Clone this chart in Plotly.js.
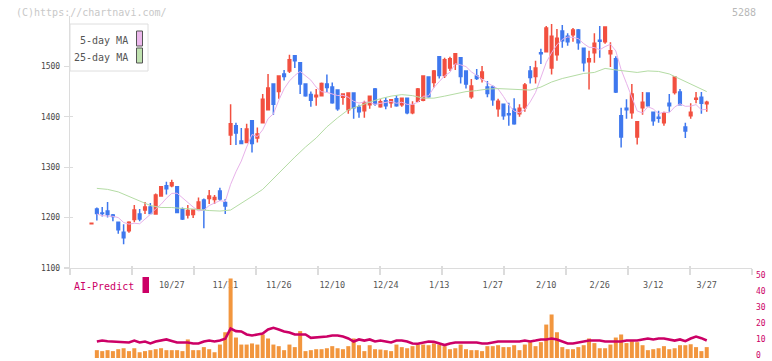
<!DOCTYPE html>
<html><head><meta charset="utf-8">
<script src="https://cdn.plot.ly/plotly-3.0.1.min.js"></script>
<style>html,body{margin:0;padding:0;background:#fff;}#chart{width:772px;height:361px;}</style>
</head><body><div id="chart"></div>
<script>
const dates = ['10/3','10/6','10/7','10/8','10/9','10/10','10/14','10/15','10/16','10/17','10/20','10/21','10/22','10/23','10/24','10/27','10/28','10/29','10/30','10/31','11/4','11/5','11/6','11/7','11/10','11/11','11/12','11/13','11/14','11/17','11/18','11/19','11/20','11/21','11/25','11/26','11/27','11/28','12/1','12/2','12/3','12/4','12/5','12/8','12/9','12/10','12/11','12/12','12/15','12/16','12/17','12/18','12/19','12/22','12/23','12/24','12/25','12/26','12/29','12/30','1/5','1/6','1/7','1/8','1/9','1/13','1/14','1/15','1/16','1/19','1/20','1/21','1/22','1/23','1/26','1/27','1/28','1/29','1/30','2/2','2/3','2/4','2/5','2/6','2/9','2/10','2/12','2/13','2/16','2/17','2/18','2/19','2/20','2/24','2/25','2/26','2/27','3/2','3/3','3/4','3/5','3/6','3/9','3/10','3/11','3/12','3/13','3/16','3/17','3/18','3/19','3/23','3/24','3/25','3/26','3/27'];

const open = [1188,1217,1209,1213,1205,1191,1171,1174,1196,1207,
1215,1221,1207,1243,1263,1263,1261,1217,1205,1206,
1216,1235,1238,1236,1253,1230,1364,1382,1352,1349,
1392,1358,1388,1414,1465,1450,1485,1491,1521,1507,
1465,1444,1440,1442,1465,1459,1453,1439,1414,1447,
1419,1412,1424,1455,1420,1432,1428,1436,1424,1437,
1408,1431,1433,1479,1468,1519,1482,1497,1505,1517,
1491,1440,1481,1476,1459,1459,1416,1425,1406,1415,
1406,1418,1491,1480,1527,1529,1497,1523,1570,1560,
1563,1572,1536,1509,1527,1552,1549,1525,1515,1402,
1417,1408,1360,1418,1447,1409,1399,1388,1427,1448,
1449,1380,1402,1435,1439,1426];
const high = [1189,1220,1221,1231,1207,1191,1187,1193,1225,1217,
1231,1229,1248,1262,1271,1275,1261,1220,1225,1216,
1240,1238,1255,1245,1259,1237,1425,1388,1378,1386,
1392,1379,1445,1485,1465,1481,1493,1523,1521,1507,
1465,1450,1455,1468,1484,1468,1453,1446,1448,1448,
1424,1432,1441,1457,1435,1439,1435,1443,1438,1438,
1431,1457,1482,1480,1493,1519,1517,1519,1525,1517,
1491,1475,1495,1501,1471,1462,1436,1425,1428,1437,
1425,1467,1501,1511,1535,1580,1584,1574,1582,1566,
1576,1574,1537,1531,1566,1580,1578,1548,1520,1418,
1435,1465,1390,1449,1447,1410,1412,1410,1445,1479,
1455,1388,1427,1449,1449,1432];
const low = [1188,1194,1202,1200,1193,1168,1147,1170,1191,1193,
1207,1207,1207,1242,1246,1260,1209,1195,1198,1199,
1216,1179,1227,1227,1233,1207,1344,1344,1346,1349,
1329,1349,1388,1414,1404,1436,1472,1487,1497,1445,
1440,1420,1422,1442,1449,1426,1412,1424,1406,1396,
1398,1398,1416,1422,1418,1415,1418,1420,1420,1405,
1405,1429,1431,1438,1458,1476,1477,1491,1493,1466,
1456,1436,1473,1468,1439,1422,1400,1394,1382,1384,
1400,1410,1466,1466,1505,1529,1484,1511,1537,1541,
1549,1533,1490,1454,1507,1517,1545,1499,1447,1339,
1396,1396,1345,1404,1420,1382,1388,1382,1410,1444,
1424,1358,1396,1427,1406,1410];
const close = [1189,1208,1208,1206,1202,1176,1160,1191,1215,1197,
1221,1208,1245,1261,1257,1269,1210,1197,1214,1215,
1231,1217,1243,1240,1237,1223,1386,1368,1347,1376,
1347,1366,1435,1457,1425,1481,1480,1513,1511,1465,
1442,1433,1443,1466,1458,1428,1416,1445,1447,1418,
1410,1428,1441,1426,1430,1422,1434,1422,1437,1408,
1423,1455,1481,1440,1491,1482,1513,1515,1525,1480,
1465,1461,1476,1489,1446,1434,1431,1402,1404,1386,
1417,1463,1478,1497,1525,1576,1560,1556,1551,1549,
1572,1547,1507,1515,1546,1550,1578,1531,1449,1360,
1414,1445,1390,1429,1422,1392,1397,1407,1422,1479,
1424,1372,1409,1437,1427,1429];

const ma5 = [null,1207,1204,1203,1202.6,1200.0,1190.4,1187.0,1188.8,1187.8,
1196.8,1206.4,1217.2,1226.4,1238.4,1248.0,1248.4,1238.8,1229.4,1221.0,
1213.4,1214.8,1224.0,1229.2,1233.6,1232.0,1265.8,1290.8,1312.2,1340.0,
1364.8,1360.8,1374.2,1396.2,1406.0,1432.8,1455.6,1471.2,1482.0,1490.0,
1482.2,1472.8,1458.8,1449.8,1448.4,1445.6,1442.2,1442.6,1438.8,1430.8,
1427.2,1429.6,1428.8,1424.6,1427.0,1429.4,1430.6,1426.8,1429.0,1424.6,
1424.8,1429.0,1440.8,1441.4,1458.0,1469.8,1481.4,1488.2,1505.2,1503.0,
1499.6,1489.2,1481.4,1474.2,1467.4,1461.2,1455.2,1440.4,1423.4,1411.4,
1408.0,1414.4,1429.6,1448.2,1476.0,1507.8,1527.2,1542.8,1553.6,1558.4,
1557.6,1555.0,1545.2,1538.0,1537.4,1533.0,1539.2,1544.0,1530.8,1493.6,
1466.4,1439.8,1411.6,1407.6,1420.0,1415.6,1406.0,1409.4,1408.0,1419.4,
1425.8,1420.8,1421.2,1424.2,1413.8,1414.8];

const ma25Dates = ['10/6','10/8','10/10','10/15','10/17','10/21','10/23','10/27','10/29','10/31','11/6','11/10','11/12','11/14','11/18','11/20','11/25','11/27','12/1','12/3','12/5','12/9','12/11','12/15','12/17','12/19','12/23','12/25','12/29','1/5','1/7','1/9','1/14','1/16','1/20','1/22','1/26','1/28','1/30','2/3','2/5','2/9','2/12','2/16','2/18','2/20','2/25','2/27','3/3','3/5','3/9','3/11','3/13','3/17','3/19','3/24','3/26','3/27'];
const ma25 = [1258,1256,1251,1242,1232,1224,1220,1220,1218,1217,1214,1213,1215,1228,1242,1256,1278,1300,1320,1340,1358,1380,1398,1414,1422,1429,1436,1441,1444,1442,1437,1437,1441,1446,1450,1452,1455,1456,1455,1453,1453,1459,1469,1476,1481,1486,1488,1496,1493,1490,1488,1491,1490,1485,1475,1465,1455,1450];

const volume = [null,4.9,4.3,4.9,4.3,5.5,6.1,4.3,6.1,3.6,4.3,
4.9,5.5,6.1,4.9,4.9,4.9,4.3,11.6,4.9,4.9,
6.8,5.5,3.6,8.4,16.1,49.7,12.8,8.4,8.4,9.1,
8.4,14.7,12.2,8.4,7.4,4.9,8.4,6.8,16.8,4.3,
4.9,5.5,5.5,6.1,7.4,6.1,5.5,7.4,12.2,8.0,
4.3,8.0,5.5,5.3,4.9,4.3,8.4,6.8,6.1,7.4,
8.4,8.4,8.0,9.1,8.4,7.4,5.5,6.1,8.4,5.5,
4.9,4.9,4.3,7.4,7.4,8.0,6.8,6.8,8.0,4.9,
8.4,9.9,7.4,9.9,20.9,27.2,16.1,6.8,5.5,5.5,
6.8,8.0,12.2,9.3,6.1,6.1,8.4,12.8,14.7,9.3,
10.5,9.9,8.0,4.9,5.5,6.1,7.4,5.5,6.1,8.0,
8.0,8.6,6.8,4.3,6.8];

const aiPredict = [null,10.3,10.9,10.5,10.3,9.7,9.7,9.7,10.9,9.7,10.3,
9.1,10.3,10.9,11.6,10.7,9.7,9.7,9.7,9.1,9.1,
10.3,10.9,10.3,10.9,12.0,18.4,16.8,16.6,14.7,14.1,
14.7,15.3,17.8,18.9,17.8,16.6,15.9,14.7,14.7,14.7,
12.6,12.8,12.8,13.4,14.1,14.1,13.4,12.2,10.3,11.6,
10.9,11.6,10.3,10.9,10.3,9.7,10.9,10.9,10.3,9.1,
8.9,9.7,10.3,10.1,9.1,8.1,9.1,9.7,9.7,9.7,
9.7,9.7,9.1,9.1,9.7,10.3,10.3,10.3,10.3,10.3,
10.9,10.3,10.9,11.6,11.6,12.2,11.6,10.3,9.1,9.1,
9.7,10.3,10.9,10.9,10.9,10.3,10.3,10.3,10.3,10.9,
10.9,10.9,11.6,12.2,11.6,12.2,12.2,11.6,10.9,11.6,
10.5,12.2,13.4,12.4,10.9];

const tickLabels = ['10/27','11/11','11/26','12/10','12/24','1/13','1/27','2/10','2/26','3/12','3/27'];
const priceTicks = [1100,1200,1300,1400,1500];
const aiTicks = [0,10,20,30,40,50];

const W = 772, H = 361;
const px = v => v / W;
const py = v => 1 - v / H;
const MONO = 'DejaVu Sans Mono, Liberation Mono, monospace';
const RED = '#f25040', BLUE = '#3f78ee', AI = '#cc0066', GRID = '#dcdcdc';
const xRange = [-4.02, 123.46];
const mainDom = [px(70), px(752)];

const traces = [
  {type:'scatter', mode:'lines', x:dates, y:ma5, xaxis:'x', yaxis:'y',
   line:{color:'#e8b2ea', width:1}, hoverinfo:'skip', connectgaps:false},
  {type:'scatter', mode:'lines', x:ma25Dates, y:ma25, xaxis:'x', yaxis:'y',
   line:{color:'#b4dca4', width:1}, hoverinfo:'skip'},
  {type:'candlestick', x:dates, open:open, high:high, low:low, close:close,
   xaxis:'x', yaxis:'y', whiskerwidth:0, hoverinfo:'skip',
   increasing:{line:{color:RED, width:1.5}, fillcolor:RED},
   decreasing:{line:{color:BLUE, width:1.5}, fillcolor:BLUE}},
  {type:'bar', x:dates, y:volume, xaxis:'x2', yaxis:'y2',
   marker:{color:'#f2963e', line:{width:0}}, hoverinfo:'skip'},
  {type:'scatter', mode:'lines', x:dates, y:aiPredict, xaxis:'x2', yaxis:'y2',
   line:{color:AI, width:2.6}, hoverinfo:'skip'},
  {type:'scatter', mode:'markers', x:[], y:[], xaxis:'x3', yaxis:'y', hoverinfo:'skip'},
  {type:'scatter', mode:'markers', x:[], y:[], xaxis:'x4', yaxis:'y', hoverinfo:'skip'},
  {type:'scatter', mode:'markers', x:[], y:[], xaxis:'x', yaxis:'y3', hoverinfo:'skip'}
];

const layout = {
  width:W, height:H, margin:{l:0,r:0,t:0,b:0},
  paper_bgcolor:'#ffffff', plot_bgcolor:'rgba(0,0,0,0)',
  showlegend:false, bargap:0.25,
  font:{family:MONO, size:8, color:'#555'},
  xaxis:{type:'category', categoryorder:'array', categoryarray:dates, domain:mainDom,
    anchor:'y', range:xRange, showgrid:false, zeroline:false,
    showline:true, linecolor:GRID, linewidth:1.2, ticks:'',
    tickmode:'array', tickvals:tickLabels, ticktext:tickLabels, ticklabelstandoff:9,
    tickfont:{family:MONO, size:8.5, color:'#555'},
    rangeslider:{visible:false}, fixedrange:true},
  yaxis:{domain:[py(268), py(16)], range:[1100,1600], anchor:'x',
    tickmode:'array', tickvals:priceTicks, ticks:'outside', ticklen:5, tickcolor:GRID, tickwidth:1.2,
    showline:true, linecolor:GRID, linewidth:1.2, showgrid:false, zeroline:false,
    ticklabelstandoff:2, tickfont:{family:MONO, size:8, color:'#444'}, fixedrange:true},
  yaxis3:{overlaying:'y', anchor:'x', range:[1100,1600], tickmode:'array', tickvals:priceTicks,
    ticks:'inside', ticklen:3, tickcolor:GRID, tickwidth:1.2, showticklabels:false,
    showline:false, showgrid:false, zeroline:false},
  xaxis3:{overlaying:'x', anchor:'y', range:[0,11], tickmode:'linear', tick0:0, dtick:1,
    ticks:'outside', ticklen:6, tickcolor:GRID, tickwidth:1.2, showticklabels:false,
    showline:false, showgrid:false, zeroline:false},
  xaxis4:{overlaying:'x', anchor:'y', range:[0,11], tickmode:'linear', tick0:0, dtick:1,
    ticks:'inside', ticklen:2.5, tickcolor:GRID, tickwidth:1.2, showticklabels:false,
    showline:false, showgrid:false, zeroline:false},
  xaxis2:{type:'category', categoryorder:'array', categoryarray:dates, domain:mainDom,
    anchor:'y2', range:xRange, visible:false, fixedrange:true},
  yaxis2:{domain:[py(358), py(278)], range:[0,50], anchor:'x2', side:'right',
    tickmode:'array', tickvals:aiTicks, ticks:'', showline:false, showgrid:false, zeroline:false,
    ticklabeloverflow:'allow', ticklabelshift:-3,
    ticklabelstandoff:3, tickfont:{family:MONO, size:8, color:AI}, fixedrange:true},
  shapes:[
    {type:'rect', xref:'paper', yref:'paper', x0:px(70), x1:px(148), y0:py(71), y1:py(24),
     line:{color:'#dedede', width:1}, fillcolor:'#ffffff', layer:'above'},
    {type:'rect', xref:'paper', yref:'paper', x0:px(136.5), x1:px(142.5), y0:py(46), y1:py(31),
     line:{color:'#555', width:1}, fillcolor:'#ecb8ec', layer:'above'},
    {type:'rect', xref:'paper', yref:'paper', x0:px(136.5), x1:px(142.5), y0:py(63), y1:py(48),
     line:{color:'#555', width:1}, fillcolor:'#c0e2b0', layer:'above'},
    {type:'rect', xref:'paper', yref:'paper', x0:px(142.5), x1:px(149), y0:py(293), y1:py(277),
     line:{width:0}, fillcolor:AI, layer:'above'}
  ],
  annotations:[
    {xref:'paper', yref:'paper', x:px(14), y:py(12.5), xanchor:'left', yanchor:'middle',
     text:'(C)https://chartnavi.com/', showarrow:false, font:{family:MONO, size:10, color:'#c8c8c8'}},
    {xref:'paper', yref:'paper', x:px(758), y:py(12), xanchor:'right', yanchor:'middle',
     text:'5288', showarrow:false, font:{family:MONO, size:10, color:'#b8b8b8'}},
    {xref:'paper', yref:'paper', x:px(130), y:py(40), xanchor:'right', yanchor:'middle',
     text:'5-day MA', showarrow:false, font:{family:MONO, size:10, color:'#555'}},
    {xref:'paper', yref:'paper', x:px(130), y:py(57), xanchor:'right', yanchor:'middle',
     text:'25-day MA', showarrow:false, font:{family:MONO, size:10, color:'#555'}},
    {xref:'paper', yref:'paper', x:px(136), y:py(286), xanchor:'right', yanchor:'middle',
     text:'AI-Predict', showarrow:false, font:{family:MONO, size:10, color:AI}}
  ]
};

Plotly.newPlot('chart', traces, layout, {displayModeBar:false, staticPlot:true});
</script>
</body></html>
